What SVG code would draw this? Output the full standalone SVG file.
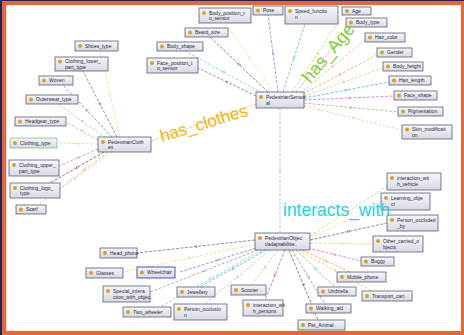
<svg xmlns="http://www.w3.org/2000/svg" width="464" height="335" viewBox="0 0 464 335">
<defs>
<linearGradient id="g" x1="0" y1="0" x2="0" y2="1"><stop offset="0" stop-color="#f6f6fb"/><stop offset="1" stop-color="#d9d9e6"/></linearGradient>
<marker id="a" viewBox="0 0 6 6" refX="3" refY="3" markerWidth="4.5" markerHeight="4.5" orient="auto"><path d="M0.5,0.5 L5.5,3 L0.5,5.5" fill="none" stroke="context-stroke" stroke-width="1"/></marker>
</defs>
<style>
.nb{fill:url(#g);stroke:#5a5e72;stroke-width:0.8}
.dot{fill:#d6a222}
.t{font-family:"Liberation Sans",Arial,sans-serif;font-size:5px;fill:#2a2a35}
.e{fill:none;stroke-width:0.7;stroke-dasharray:3 1.5;marker-mid:url(#a)}
.lbl{font-family:"Liberation Sans",Arial,sans-serif}
</style>
<rect width="464" height="335" fill="#1e2650"/>
<rect x="2" y="1" width="462" height="334" fill="#e9643b"/>
<rect x="6" y="5" width="455" height="326" fill="#fbe9e2"/>
<rect x="7" y="5.5" width="454" height="325" fill="#ffffff"/>

<g id="connectors">
<polyline class="e" stroke="#e6e070" points="120,137 110,94 100,51"/>
<polyline class="e" stroke="#6a6a6a" points="117,137 100,104 83,71"/>
<polyline class="e" stroke="#5878a0" points="112,137 87,110.5 62,84"/>
<polyline class="e" stroke="#88bcd8" points="106,138 82,121 58,104"/>
<polyline class="e" stroke="#d4a878" points="98,140 82,131 66,122"/>
<polyline class="e" stroke="#e4d45c" points="98,144 77.5,143.5 57,143"/>
<polyline class="e" stroke="#b080d0" points="98,149 78.5,157.5 59,166"/>
<polyline class="e" stroke="#7a3a3a" points="104,152 77,167.5 50,183"/>
<polyline class="e" stroke="#d8b080" points="108,152 84,170 60,188"/>
<polyline class="e" stroke="#e0c898" points="112,152 75,178.5 38,205"/>
<polyline class="e" stroke="#e0b870" points="256,104 203.5,122.5 151,141"/>
<polyline class="e" stroke="#e6e070" points="274,92 249.5,57.5 225,23"/>
<polyline class="e" stroke="#7070c8" points="278,92 273,53.5 268,15"/>
<polyline class="e" stroke="#50c070" points="283,92 294,58 305,24"/>
<polyline class="e" stroke="#5a5a5a" points="268,92 239,64.5 210,37"/>
<polyline class="e" stroke="#50c8e0" points="262,93 223.5,72 185,51"/>
<polyline class="e" stroke="#6a6a6a" points="256,96 227,82 198,68"/>
<polyline class="e" stroke="#b8d070" points="292,92 317.5,53.5 343,15"/>
<polyline class="e" stroke="#e070c0" points="296,92 323,59.5 350,27"/>
<polyline class="e" stroke="#d8b080" points="300,93 332.5,66.5 365,40"/>
<polyline class="e" stroke="#e0a060" points="303,94 340,74.5 377,55"/>
<polyline class="e" stroke="#d8c070" points="304,96 343.5,82 383,68"/>
<polyline class="e" stroke="#40b0a0" points="304,98 346.5,90 389,82"/>
<polyline class="e" stroke="#c060c0" points="304,100 349,98 394,96"/>
<polyline class="e" stroke="#a0a0a0" points="304,103 351,107.5 398,112"/>
<polyline class="e" stroke="#d8c890" points="304,106 353,118 402,130"/>
<polyline class="e" stroke="#78c0c8" points="280,108 280,170.5 280,233"/>
<polyline class="e" stroke="#d0c080" points="310,236 348.5,211 387,186"/>
<polyline class="e" stroke="#e6e070" points="310,238 345.5,221.5 381,205"/>
<polyline class="e" stroke="#505060" points="310,240 348.5,231.5 387,223"/>
<polyline class="e" stroke="#e0c070" points="310,243 341.5,243.5 373,244"/>
<polyline class="e" stroke="#e06080" points="308,248 334.5,254.5 361,261"/>
<polyline class="e" stroke="#e0a040" points="302,250 326,261 350,272"/>
<polyline class="e" stroke="#e0c050" points="298,250 335,270.5 372,291"/>
<polyline class="e" stroke="#60c060" points="296,250 315.5,268.5 335,287"/>
<polyline class="e" stroke="#808890" points="292,250 308.5,277 325,304"/>
<polyline class="e" stroke="#505060" points="289,250 303.5,285 318,320"/>
<polyline class="e" stroke="#d04070" points="285,250 275,275 265,300"/>
<polyline class="e" stroke="#b0d060" points="278,250 265,267.5 252,285"/>
<polyline class="e" stroke="#90d090" points="270,250 237.5,277 205,304"/>
<polyline class="e" stroke="#40a0a0" points="266,250 233,268.5 200,287"/>
<polyline class="e" stroke="#60c8e0" points="262,250 211,278.5 160,307"/>
<polyline class="e" stroke="#909090" points="258,250 204,271 150,292"/>
<polyline class="e" stroke="#9060c0" points="256,248 218,260 180,272"/>
<polyline class="e" stroke="#e0d070" points="256,244 189.5,258 123,272"/>
<polyline class="e" stroke="#606070" points="255,240 196,246.5 137,253"/>
</g>

<!-- clothes cluster -->
<g id="n-shoes" transform="translate(75,41)"><rect class="nb" width="43" height="10"/><circle class="dot" cx="5" cy="5" r="2"/><text class="t" x="10" y="6.8">Shoes_type</text></g>
<g id="n-clothing-lower" transform="translate(55,57)"><rect class="nb" width="53" height="14"/><circle class="dot" cx="5" cy="4.5" r="2"/><text class="t" x="10" y="6">Clothing_lower_<tspan x="10" y="11.5">part_type</tspan></text></g>
<g id="n-woven" transform="translate(39,76)"><rect class="nb" width="34" height="9"/><circle class="dot" cx="5" cy="4.5" r="2"/><text class="t" x="10" y="6.3">Woven</text></g>
<g id="n-outerwear" transform="translate(26,95)"><rect class="nb" width="52" height="9"/><circle class="dot" cx="5" cy="4.5" r="2"/><text class="t" x="10" y="6.3">Outerwear_type</text></g>
<g id="n-headgear" transform="translate(15,117)"><rect class="nb" width="51" height="9"/><circle class="dot" cx="5" cy="4.5" r="2"/><text class="t" x="10" y="6.3">Headgear_type</text></g>
<g id="n-clothing-type" transform="translate(10,138)"><rect class="nb" width="47" height="10" style="stroke:#7cc67c"/><circle class="dot" cx="5" cy="5" r="2"/><text class="t" x="10" y="6.8">Clothing_type</text></g>
<g id="n-clothing-upper" transform="translate(9,160)"><rect class="nb" width="50" height="16"/><circle class="dot" cx="5" cy="5" r="2"/><text class="t" x="10" y="6.5">Clothing_upper_<tspan x="10" y="12.5">part_type</tspan></text></g>
<g id="n-clothing-logo" transform="translate(10,183)"><rect class="nb" width="50" height="15"/><circle class="dot" cx="5" cy="5" r="2"/><text class="t" x="10" y="6.5">Clothing_logo_<tspan x="10" y="12.2">type</tspan></text></g>
<g id="n-scarf" transform="translate(16,205)"><rect class="nb" width="30" height="9"/><circle class="dot" cx="5" cy="4.5" r="2"/><text class="t" x="10" y="6.3">Scarf</text></g>
<g id="n-ped-clothes" transform="translate(98,137)"><rect class="nb" width="53" height="15"/><circle class="dot" cx="5" cy="5" r="2"/><text class="t" x="10" y="6.5">PedestrianCloth<tspan x="10" y="12.2">es</tspan></text></g>

<!-- sensor cluster -->
<g id="n-ped-sensor" transform="translate(256,92)"><rect class="nb" width="48" height="16"/><circle class="dot" cx="5" cy="5" r="2"/><text class="t" x="10" y="6.5">PedestrianSensor<tspan x="10" y="12.5">al</tspan></text></g>
<g id="n-body-position" transform="translate(199,8)"><rect class="nb" width="52" height="15"/><circle class="dot" cx="5" cy="5" r="2"/><text class="t" x="10" y="6.5">Body_position_t<tspan x="10" y="12.2">o_sensor</tspan></text></g>
<g id="n-pose" transform="translate(253,6)"><rect class="nb" width="30" height="9"/><circle class="dot" cx="5" cy="4.5" r="2"/><text class="t" x="10" y="6.3">Pose</text></g>
<g id="n-speed" transform="translate(285,6)"><rect class="nb" width="53" height="18"/><circle class="dot" cx="5" cy="5" r="2"/><text class="t" x="10" y="6.5">Speed_functio<tspan x="10" y="12.5">n</tspan></text></g>
<g id="n-age" transform="translate(342,7)"><rect class="nb" width="29" height="8"/><circle class="dot" cx="5" cy="4" r="2"/><text class="t" x="10" y="5.8">Age</text></g>
<g id="n-body-type" transform="translate(346,18)"><rect class="nb" width="41" height="9"/><circle class="dot" cx="5" cy="4.5" r="2"/><text class="t" x="10" y="6.3">Body_type</text></g>
<g id="n-hair-color" transform="translate(365,33)"><rect class="nb" width="40" height="9"/><circle class="dot" cx="5" cy="4.5" r="2"/><text class="t" x="10" y="6.3">Hair_color</text></g>
<g id="n-gender" transform="translate(377,48)"><rect class="nb" width="35" height="9"/><circle class="dot" cx="5" cy="4.5" r="2"/><text class="t" x="10" y="6.3">Gender</text></g>
<g id="n-body-height" transform="translate(383,62)"><rect class="nb" width="40" height="9"/><circle class="dot" cx="5" cy="4.5" r="2"/><text class="t" x="10" y="6.3">Body_height</text></g>
<g id="n-hair-length" transform="translate(389,76)"><rect class="nb" width="42" height="9"/><circle class="dot" cx="5" cy="4.5" r="2"/><text class="t" x="10" y="6.3">Hair_length</text></g>
<g id="n-face-shape" transform="translate(394,91)"><rect class="nb" width="43" height="9"/><circle class="dot" cx="5" cy="4.5" r="2"/><text class="t" x="10" y="6.3">Face_shape</text></g>
<g id="n-pigmentation" transform="translate(398,107)"><rect class="nb" width="45" height="9"/><circle class="dot" cx="5" cy="4.5" r="2"/><text class="t" x="10" y="6.3">Pigmentation</text></g>
<g id="n-skin-mod" transform="translate(402,125)"><rect class="nb" width="50" height="14"/><circle class="dot" cx="5" cy="4.5" r="2"/><text class="t" x="10" y="6">Skin_modificati<tspan x="10" y="11.5">on</tspan></text></g>
<g id="n-beard" transform="translate(185,28)"><rect class="nb" width="43" height="9"/><circle class="dot" cx="5" cy="4.5" r="2"/><text class="t" x="10" y="6.3">Beard_size</text></g>
<g id="n-body-shape" transform="translate(157,42)"><rect class="nb" width="46" height="9"/><circle class="dot" cx="5" cy="4.5" r="2"/><text class="t" x="10" y="6.3">Body_shape</text></g>
<g id="n-face-position" transform="translate(147,58)"><rect class="nb" width="51" height="15"/><circle class="dot" cx="5" cy="5" r="2"/><text class="t" x="10" y="6.5">Face_position_t<tspan x="10" y="12.2">o_sensor</tspan></text></g>

<!-- object cluster -->
<g id="n-ped-object" transform="translate(255,233)"><rect class="nb" width="55" height="17"/><circle class="dot" cx="5" cy="5" r="2"/><text class="t" x="10" y="6.5">PedestrianObjec<tspan x="10" y="12.5">t/adaptabilitie..</tspan></text></g>
<g id="n-int-vehicle" transform="translate(387,173)"><rect class="nb" width="54" height="17"/><circle class="dot" cx="5" cy="5" r="2"/><text class="t" x="10" y="6.5">interaction_wit<tspan x="10" y="12.5">h_vehicle</tspan></text></g>
<g id="n-learning" transform="translate(381,193)"><rect class="nb" width="49" height="17"/><circle class="dot" cx="5" cy="5" r="2"/><text class="t" x="10" y="6.5">Learning_obje<tspan x="10" y="12.5">ct</tspan></text></g>
<g id="n-person-occluded-by" transform="translate(387,215)"><rect class="nb" width="51" height="16"/><circle class="dot" cx="5" cy="5" r="2"/><text class="t" x="10" y="6.5">Person_occluded<tspan x="10" y="12.5">_by</tspan></text></g>
<g id="n-other-carried" transform="translate(373,236)"><rect class="nb" width="50" height="16"/><circle class="dot" cx="5" cy="5" r="2"/><text class="t" x="10" y="6.5">Other_carried_o<tspan x="10" y="12.5">bjects</tspan></text></g>
<g id="n-buggy" transform="translate(361,257)"><rect class="nb" width="33" height="9"/><circle class="dot" cx="5" cy="4.5" r="2"/><text class="t" x="10" y="6.3">Buggy</text></g>
<g id="n-mobile" transform="translate(337,272)"><rect class="nb" width="49" height="10"/><circle class="dot" cx="5" cy="5" r="2"/><text class="t" x="10" y="6.8">Mobile_phone</text></g>
<g id="n-transport" transform="translate(362,291)"><rect class="nb" width="50" height="10"/><circle class="dot" cx="5" cy="5" r="2"/><text class="t" x="10" y="6.8">Transport_cart</text></g>
<g id="n-umbrella" transform="translate(318,287)"><rect class="nb" width="38" height="9"/><circle class="dot" cx="5" cy="4.5" r="2"/><text class="t" x="10" y="6.3">Umbrella</text></g>
<g id="n-walking" transform="translate(306,304)"><rect class="nb" width="45" height="9"/><circle class="dot" cx="5" cy="4.5" r="2"/><text class="t" x="10" y="6.3">Walking_aid</text></g>
<g id="n-pet" transform="translate(298,320)"><rect class="nb" width="47" height="10"/><circle class="dot" cx="5" cy="5" r="2"/><text class="t" x="10" y="6.8">Pet_Animal</text></g>
<g id="n-int-persons" transform="translate(243,300)"><rect class="nb" width="40" height="16"/><circle class="dot" cx="5" cy="5" r="2"/><text class="t" x="10" y="6.5">interaction_wit<tspan x="10" y="12.5">h_persons</tspan></text></g>
<g id="n-scooter" transform="translate(231,285)"><rect class="nb" width="35" height="10"/><circle class="dot" cx="5" cy="5" r="2"/><text class="t" x="10" y="6.8">Scooter</text></g>
<g id="n-person-occlusion" transform="translate(174,304)"><rect class="nb" width="53" height="16"/><circle class="dot" cx="5" cy="5" r="2"/><text class="t" x="10" y="6.5">Person_occlusio<tspan x="10" y="12.5">n</tspan></text></g>
<g id="n-jewellery" transform="translate(177,287)"><rect class="nb" width="38" height="10"/><circle class="dot" cx="5" cy="5" r="2"/><text class="t" x="10" y="6.8">Jewellery</text></g>
<g id="n-two-wheeler" transform="translate(123,307)"><rect class="nb" width="48" height="10"/><circle class="dot" cx="5" cy="5" r="2"/><text class="t" x="10" y="6.8">Two_wheeler</text></g>
<g id="n-special" transform="translate(103,286)"><rect class="nb" width="47" height="16"/><circle class="dot" cx="5" cy="5" r="2"/><text class="t" x="10" y="6.5">Special_intera<tspan x="10" y="12.5">ction_with_objec..</tspan></text></g>
<g id="n-wheelchair" transform="translate(137,267)"><rect class="nb" width="38" height="11" style="stroke:#4a52b8;stroke-width:1"/><circle class="dot" cx="5" cy="5.5" r="2"/><text class="t" x="10" y="7.3">Wheelchair</text></g>
<g id="n-glasses" transform="translate(86,268)"><rect class="nb" width="37" height="10"/><circle class="dot" cx="5" cy="5" r="2"/><text class="t" x="10" y="6.8">Glasses</text></g>
<g id="n-head-phone" transform="translate(100,248)"><rect class="nb" width="37" height="10"/><circle class="dot" cx="5" cy="5" r="2"/><text class="t" x="10" y="6.8">Head_phone</text></g>

<!-- relation labels -->
<text class="lbl" x="162" y="142" font-size="17" fill="#f6b300" transform="rotate(-17 162 142)">has_clothes</text>
<text class="lbl" x="310" y="84" font-size="18" fill="#7fd132" transform="rotate(-50 310 84)">has_Age</text>
<text class="lbl" x="283" y="216" font-size="17.5" fill="#22d2ee">interacts_with</text>
</svg>
